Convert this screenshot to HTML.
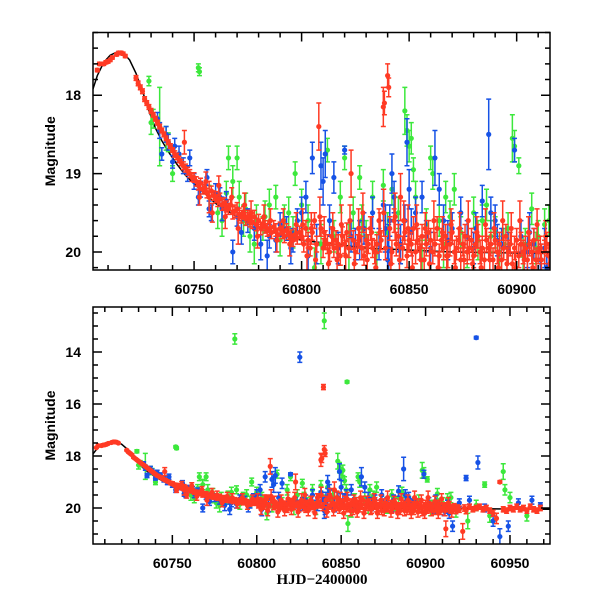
<!DOCTYPE html>
<html><head><meta charset="utf-8"><style>
html,body{margin:0;padding:0;background:#fff;}
svg{display:block;}
text{font-family:"Liberation Sans",sans-serif;}
</style></head><body>
<svg id="chart" width="600" height="600" viewBox="0 0 600 600" xmlns="http://www.w3.org/2000/svg">
<defs>
<clipPath id="clipTop"><rect x="93" y="32.5" width="457" height="237.5"/></clipPath>
<clipPath id="clipBot"><rect x="93" y="307" width="457" height="237"/></clipPath>
</defs>
<g id="top"></g>
<g id="bot"></g>
</svg>
<script>
// Model curve: times and magnitudes
const modelT = [60703,60705,60708,60711,60714,60717,60720,60723,60726,60729,60732,60735,60738,60742,60746,60750,60760,60770,60780,60790,60800,60830,60870,60915,60975];
const modelM = [17.92,17.75,17.58,17.49,17.45,17.46,17.55,17.72,17.95,18.2,18.42,18.58,18.72,18.88,19.02,19.13,19.38,19.55,19.68,19.78,19.85,19.95,20.0,20.02,20.05];

// Green series [HJD, mag, err]
const greenData = [
[60729,17.82,0.06],[60730,18.35,0.15],[60731,18.3,0.12],[60734,18.4,0.5],[60737,18.55,0.15],[60738,18.6,0.12],[60740,19.0,0.1],
[60752,17.65,0.05],[60752.5,17.7,0.05],[60757,19.3,0.15],[60763,19.6,0.2],[60766,18.8,0.15],[60768,19.1,0.2],[60770,18.8,0.15],
[60771,19.3,0.2],[60773,19.6,0.2],[60776,19.8,0.2],[60779,19.6,0.2],[60782,19.7,0.15],[60785,19.4,0.2],[60788,19.3,0.15],
[60792,19.6,0.2],[60796,19.75,0.2],[60797,19.0,0.15],[60800,19.4,0.2],[60806,20.2,0.25],[60812,18.7,0.15],[60815,19.8,0.2],
[60818,19.3,0.2],[60820,18.8,0.15],[60824,19.5,0.2],[60827,19.05,0.15],[60830,19.8,0.2],[60833,19.3,0.2],[60835,20.0,0.25],
[60838,19.15,0.2],[60842,19.2,0.2],[60845,19.5,0.2],[60848,18.2,0.3],[60849,18.45,0.2],[60850,18.65,0.2],[60851,18.55,0.2],
[60852,18.95,0.15],[60853,19.3,0.2],[60856,20.1,0.25],[60860,18.8,0.15],[60861,19.0,0.2],[60864,19.6,0.2],[60867,19.3,0.2],
[60871,19.2,0.2],[60874,19.75,0.2],[60877,20.0,0.2],[60880,19.5,0.2],[60884,19.6,0.2],[60888,19.8,0.2],[60890,19.75,0.2],
[60892,20.0,0.2],[60894,19.9,0.2],[60898,18.55,0.3],[60899,18.65,0.2],[60901,18.9,0.1],[60904,19.9,0.2],[60907,19.45,0.2],
[60910,19.8,0.2],[60913,19.65,0.2],[60915,19.6,0.2],
[60761,19.5,0.2],[60765,19.25,0.15],[60774,19.45,0.2],[60778,19.9,0.25],[60783,19.55,0.2],[60790,19.85,0.2],[60794,19.5,0.2],
[60803,19.6,0.2],[60809,19.9,0.25],[60822,19.95,0.3],[60828,19.6,0.2],[60840,19.75,0.25],[60858,19.65,0.2],[60866,19.9,0.3],
[60869,19.55,0.2],[60882,19.85,0.25],[60886,19.4,0.2],[60896,19.7,0.2],[60903,20.05,0.25],[60909,19.95,0.2],
[60787,13.5,0.2],[60840,12.8,0.3],[60853.5,15.15,0.05],[60854,20.6,0.3],[60918,20.1,0.25],[60925,20.5,0.3],[60930,19.9,0.2],
[60935,19.1,0.1],[60938,20.3,0.25],[60946,18.6,0.3],[60947,19.3,0.2],[60950,19.6,0.2],[60960,20.3,0.2]
];

// Blue series [HJD, mag, err]
const blueData = [
[60733,18.3,0.08],[60734,18.45,0.1],[60735,18.75,0.08],[60737,18.5,0.1],[60738,18.6,0.1],[60740,18.85,0.08],[60741,18.65,0.1],
[60743,18.75,0.1],[60745,18.9,0.1],[60747,19.0,0.1],[60748,18.8,0.1],[60750,19.1,0.1],[60752,19.3,0.1],[60753,19.2,0.1],
[60756,19.05,0.1],[60757,19.45,0.1],[60758,19.5,0.1],[60760,19.25,0.12],[60762,19.3,0.12],[60765,19.35,0.12],[60768,20.0,0.15],
[60770,19.55,0.12],[60775,19.6,0.15],[60778,19.7,0.15],[60784,20.05,0.2],[60785,19.8,0.15],[60788,19.85,0.15],[60790,19.65,0.15],
[60793,19.7,0.15],[60796,19.85,0.15],[60798,19.6,0.15],[60800,19.5,0.2],[60802,19.3,0.2],[60805,18.8,0.2],[60807,19.9,0.25],
[60809,18.9,0.3],[60810,19.1,0.3],[60811,18.75,0.3],[60813,19.6,0.2],[60815,19.05,0.2],[60820,18.7,0.05],[60823,19.8,0.2],
[60825,19.9,0.2],[60829,19.7,0.2],[60833,19.5,0.2],[60836,19.9,0.2],[60838,19.4,0.2],[60840,20.1,0.3],[60841,19.6,0.2],
[60842,19.0,0.25],[60843,19.3,0.2],[60845,19.8,0.2],[60848,19.6,0.2],[60849,18.6,0.3],[60850,19.2,0.25],[60853,19.5,0.2],
[60856,19.3,0.2],[60858,19.8,0.2],[60862,18.8,0.35],[60864,19.2,0.2],[60866,19.6,0.2],[60870,19.7,0.2],[60874,19.5,0.2],
[60877,19.8,0.2],[60880,19.95,0.2],[60884,19.35,0.2],[60887,18.5,0.45],[60888,19.5,0.2],[60890,19.6,0.2],[60893,19.9,0.2],
[60896,19.95,0.2],[60899,18.7,0.15],[60902,19.8,0.2],[60905,20.0,0.2],[60908,19.9,0.2],[60911,20.1,0.2],[60914,20.2,0.2],
[60763,19.45,0.15],[60772,19.75,0.15],[60781,19.9,0.2],[60795,19.95,0.2],[60803,20.05,0.25],[60817,19.95,0.2],[60827,19.85,0.25],
[60839,19.7,0.3],[60840.5,19.95,0.3],[60846,19.9,0.25],[60851,19.75,0.3],[60860,19.95,0.2],[60868,19.85,0.25],[60881,19.7,0.2],
[60891,19.85,0.2],[60906,19.75,0.25],[60913,19.95,0.25],
[60825.5,14.2,0.2],[60930,13.45,0.05],[60931,18.25,0.25],[60924,18.85,0.1],[60916,20.7,0.2],[60920,19.8,0.15],[60926,19.7,0.15],
[60935,20.0,0.15],[60940,20.5,0.2],[60944,21.1,0.3],[60949,20.7,0.2],[60955,19.8,0.15],[60963,19.7,0.15],[60968,19.9,0.1]
];

// Red series magnitudes by HJD
const redT = [60705,60706,60708,60709,60710,60711,60712,60714,60715,60716,60717,60718,
60723,60724,60725,60726,60727,60728,60729,60730,60731,60732,60733,60734,60735,60736,60737,60738,60739,60740,60741,60742,60743,60744,60745,60745.5,60746,60747,60748,60749,
60750,60751,60752,60753,60754,60755,60756,60757,60758,60759,60760,60761,60762,60763,60764,60765,60766,60767,60768,60769,60770,60771,60772,60773,60774,60775,60776,60777,60778,60779,
60780,60781,60782,60783,60784,60785,60786,60787,60788,60789,60790,60791,60792,60793,60794,60795,60796,60797,60798,60799,
60800,60801,60802,60803,60804,60805,60806,60807,60808,60809,60810,60811,60812,60813,60814,60815,60816,60817,60818,60819,
60820,60821,60822,60823,60824,60825,60826,60827,60828,60829,60830,60831,60832,60833,60834,60835,60836,60837,60838,60839,
60840,60841,60842,60843,60844,60845,60846,60847,60848,60849,60850,60851,60852,60853,60854,60855,60856,60857,60858,60859,
60860,60861,60862,60863,60864,60865,60866,60867,60868,60869,60870,60871,60872,60873,60874,60875,60876,60877,60878,60879,
60880,60881,60882,60883,60884,60885,60886,60887,60888,60889,60890,60891,60892,60893,60894,60895,60896,60897,60898,60899,
60900,60901,60902,60903,60904,60905,60906,60907,60908,60909,60910,60911,60912,60913,60914,60915,60916,60917,60918,60919,
60920,60922,60923,60924,60926,60928,60930,60932,60934,60936,60938,60940,60942,60944,60946,60948,60950,60952,60954,60956,60958,60960,60962,60964,60966,60968,
60839.5,60838.5,60840.5];
const redM = [17.68,17.6,17.6,17.58,17.57,17.55,17.52,17.48,17.46,17.46,17.47,17.5,
17.78,17.85,17.9,17.95,18.05,18.1,18.15,18.2,18.25,18.3,18.35,18.4,18.45,18.5,18.55,18.6,18.65,18.7,18.75,18.78,18.82,18.86,18.9,18.6,18.93,18.97,19.0,19.05,
19.05,19.1,19.15,19.12,19.2,19.18,19.25,19.3,19.22,19.28,19.3,19.35,19.32,19.4,19.38,19.42,19.45,19.4,19.5,19.48,19.45,19.52,19.55,19.5,19.58,19.55,19.6,19.62,19.55,19.65,
19.6,19.7,19.65,19.68,19.72,19.7,19.75,19.68,19.72,19.78,19.7,19.75,19.8,19.72,19.76,19.8,19.85,19.78,19.82,19.75,
19.8,19.9,19.7,19.85,19.95,19.75,19.6,19.9,18.4,19.7,19.95,19.85,19.9,20.0,19.8,19.95,19.85,19.9,20.05,19.8,
19.9,19.75,19.95,19.0,19.85,20.0,19.9,19.8,19.95,20.05,19.85,19.9,19.7,19.95,20.0,19.9,19.6,19.85,18.15,19.95,
17.75,19.7,20.0,19.6,19.9,19.8,19.3,19.95,19.75,20.05,19.85,19.9,19.7,20.0,19.85,19.95,19.8,20.1,19.9,19.75,
19.85,20.0,19.9,19.7,20.05,19.85,19.95,19.8,20.05,19.9,19.75,20.0,19.95,19.85,20.1,19.9,19.8,20.0,19.95,19.85,
20.05,19.9,19.8,20.0,19.95,20.1,19.85,19.95,19.9,20.1,19.85,20.0,19.9,20.1,19.95,19.8,20.0,19.9,20.15,19.95,
19.85,20.05,19.9,20.0,19.95,20.1,19.9,20.0,19.85,20.1,20.0,19.95,20.8,20.0,19.9,20.05,20.0,19.95,20.1,20.0,
20.05,20.9,20.0,20.1,19.95,20.05,20.0,19.95,20.05,20.0,20.1,20.2,20.4,19.0,20.05,20.1,20.0,20.05,19.95,20.05,20.0,20.1,19.95,20.05,20.1,20.0,
15.35,18.1,17.9];
// Red error bars (mag)
const redE = [0.02,0.02,0.02,0.02,0.02,0.02,0.02,0.02,0.02,0.02,0.02,0.02,
0.03,0.03,0.03,0.03,0.03,0.03,0.03,0.03,0.03,0.03,0.03,0.03,0.03,0.03,0.03,0.03,0.03,0.03,0.04,0.04,0.04,0.04,0.05,0.15,0.05,0.05,0.05,0.05,
0.06,0.06,0.06,0.06,0.06,0.06,0.06,0.2,0.06,0.06,0.07,0.07,0.07,0.07,0.07,0.07,0.07,0.07,0.08,0.08,0.08,0.08,0.08,0.08,0.08,0.08,0.08,0.08,0.08,0.08,
0.08,0.08,0.08,0.08,0.08,0.08,0.08,0.08,0.08,0.08,0.08,0.08,0.08,0.08,0.08,0.08,0.08,0.08,0.08,0.08,
0.1,0.1,0.1,0.1,0.1,0.1,0.1,0.1,0.3,0.1,0.12,0.12,0.12,0.12,0.12,0.12,0.12,0.12,0.12,0.12,
0.12,0.12,0.12,0.3,0.12,0.15,0.12,0.12,0.15,0.12,0.15,0.12,0.15,0.12,0.15,0.12,0.15,0.12,0.25,0.15,
0.15,0.15,0.15,0.15,0.15,0.15,0.3,0.15,0.15,0.15,0.15,0.15,0.15,0.15,0.15,0.15,0.15,0.15,0.15,0.15,
0.15,0.15,0.15,0.15,0.15,0.15,0.15,0.15,0.15,0.15,0.15,0.15,0.15,0.15,0.15,0.15,0.15,0.15,0.15,0.15,
0.15,0.15,0.15,0.15,0.15,0.15,0.15,0.15,0.15,0.15,0.15,0.15,0.15,0.15,0.15,0.15,0.15,0.15,0.15,0.15,
0.15,0.15,0.15,0.15,0.15,0.15,0.15,0.15,0.15,0.15,0.15,0.15,0.3,0.15,0.15,0.15,0.12,0.12,0.12,0.12,
0.12,0.3,0.12,0.12,0.1,0.1,0.1,0.1,0.1,0.1,0.1,0.12,0.2,0.05,0.1,0.1,0.1,0.1,0.1,0.1,0.1,0.1,0.1,0.1,0.1,0.1,
0.1,0.15,0.12];

// Extra red measurements (noisier, half-day offsets)
const redT2 = [60752.5,60755.5,60758.5,60761.5,60764.5,60767.5,60770.5,60773.5,60776.5,60779.5,60782.5,60785.5,60788.5,60791.5,60794.5,60797.5,
60800.5,60802.5,60804.5,60806.5,60808.5,60810.5,60812.5,60814.5,60816.5,60818.5,60820.5,60822.5,60824.5,60826.5,60828.5,60830.5,
60832.5,60834.5,60836.5,60838.2,60841.5,60843.5,60845.5,60847.5,60849.5,60851.5,60853.5,60855.5,60857.5,60859.5,60861.5,60863.5,
60865.5,60867.5,60869.5,60871.5,60873.5,60875.5,60877.5,60879.5,60881.5,60883.5,60885.5,60887.5,60889.5,60891.5,60893.5,60895.5,
60897.5,60899.5,60901.5,60903.5,60905.5,60907.5,60909.5,60911.5,60913.5,60915.5];
const redM2 = [19.3,19.1,19.5,19.15,19.55,19.3,19.7,19.4,19.5,19.8,19.55,19.6,19.85,19.6,19.9,19.65,
19.65,20.05,19.7,20.1,19.55,19.75,20.15,19.7,20.1,19.65,20.05,19.6,20.15,19.7,19.5,20.1,
19.75,20.2,19.75,19.5,20.15,19.55,20.1,19.6,19.7,20.2,19.65,20.1,19.7,20.15,19.6,20.2,
19.75,20.05,19.65,20.2,19.7,20.1,19.6,20.15,19.75,20.2,19.65,20.1,19.7,20.2,19.6,20.15,
19.7,20.2,19.6,20.1,19.75,20.2,19.65,20.1,19.8,20.15];
const redE2 = [0.1,0.12,0.12,0.12,0.15,0.12,0.2,0.15,0.15,0.15,0.15,0.15,0.15,0.15,0.15,0.15,
0.2,0.2,0.2,0.2,0.25,0.2,0.2,0.2,0.2,0.25,0.2,0.2,0.2,0.25,0.25,0.2,
0.2,0.2,0.25,0.3,0.2,0.3,0.2,0.25,0.3,0.2,0.25,0.2,0.2,0.2,0.25,0.2,
0.2,0.2,0.2,0.2,0.2,0.2,0.25,0.2,0.2,0.2,0.2,0.2,0.2,0.2,0.25,0.2,
0.2,0.2,0.25,0.2,0.2,0.2,0.2,0.2,0.2,0.2];

// Axis tick labels
const topXTicks = [60750,60800,60850,60900];
const topYTicks = [18,19,20];
const botXTicks = [60750,60800,60850,60900,60950];
const botYTicks = [14,16,18,20];

const NS = 'http://www.w3.org/2000/svg';
function mk(tag, attrs, parent){const e=document.createElementNS(NS,tag);for(const k in attrs)e.setAttribute(k,attrs[k]);parent.appendChild(e);return e;}

const panels = [
 {g:document.getElementById('top'), clip:'clipTop', x0:93,x1:550,y0:32.5,y1:270, tmin:60703,tmax:60915.5, mmin:17.2,mmax:20.23,
  xt:topXTicks, yt:topYTicks, yminor:0.2, label:'top'},
 {g:document.getElementById('bot'), clip:'clipBot', x0:93,x1:550,y0:307,y1:544, tmin:60703,tmax:60973.7, mmin:12.27,mmax:21.385,
  xt:botXTicks, yt:botYTicks, yminor:0.5, label:'bottom'}
];

const colors = {green:'#3ce83c', blue:'#1652e6', red:'#ff3a24'};

panels.forEach(p=>{
  const X = t => p.x0 + (t-p.tmin)/(p.tmax-p.tmin)*(p.x1-p.x0);
  const Y = m => p.y0 + (m-p.mmin)/(p.mmax-p.mmin)*(p.y1-p.y0);
  const plot = mk('g',{'clip-path':'url(#'+p.clip+')'},p.g);
  
  
  let d = modelT.map((t,i)=>(i?'L':'M')+X(t).toFixed(1)+' '+Y(modelM[i]).toFixed(1)).join(' ');
  const ml = mk('path',{d:d,fill:'none',stroke:'#000','stroke-width':1.5},plot);
  
  
  function drawSeries(name, arr, col){
    const sg = mk('g',{},plot);
    
    
    arr.forEach(([t,m,e])=>{
      const x=X(t), y=Y(m), ya=Y(m-e), yb=Y(m+e);
      const pt = mk('g',{},sg);
      
      
      mk('path',{d:`M${x} ${ya} L${x} ${yb} M${x-2.5} ${ya} L${x+2.5} ${ya} M${x-2.5} ${yb} L${x+2.5} ${yb}`,stroke:col,'stroke-width':1.5,fill:'none'},pt);
      mk('circle',{cx:x,cy:y,r:2.6,fill:col},pt);
    });
  }
  drawSeries('green', greenData, colors.green);
  drawSeries('blue', blueData, colors.blue);
  drawSeries('red', redT.map((t,i)=>[t,redM[i],redE[i]]).concat(redT2.map((t,i)=>[t,redM2[i],redE2[i]])), colors.red);

  const fr = mk('rect',{x:p.x0,y:p.y0,width:p.x1-p.x0,height:p.y1-p.y0,fill:'none',stroke:'#000','stroke-width':1.5},p.g);
  
  
  let td='';
  for(let t=60710;t<=p.tmax;t+=10){
    const x=X(t), L=(t%50===0)?9:5;
    td+=`M${x} ${p.y1} L${x} ${p.y1-L} M${x} ${p.y0} L${x} ${p.y0+L} `;
  }
  const start=Math.ceil(p.mmin/p.yminor)*p.yminor;
  for(let m=start;m<=p.mmax+1e-9;m+=p.yminor){
    const mr=Math.round(m*10)/10, y=Y(mr), L=(p.yt.indexOf(mr)>=0)?9:5;
    td+=`M${p.x0} ${y} L${p.x0+L} ${y} M${p.x1} ${y} L${p.x1-L} ${y} `;
  }
  const tk = mk('path',{d:td,stroke:'#000','stroke-width':1.5,fill:'none'},p.g);
  
  
  p.xt.forEach(t=>{
    const tx = mk('text',{x:X(t),y:p.y1+24,'text-anchor':'middle','font-size':14,'font-weight':'bold'},p.g);
    tx.textContent=t;
    
    
  });
  p.yt.forEach(m=>{
    const ty = mk('text',{x:p.x0-12,y:Y(m)+5,'text-anchor':'end','font-size':14,'font-weight':'bold'},p.g);
    ty.textContent=m;
    
    
  });
  const yc=(p.y0+p.y1)/2;
  const yl = mk('text',{x:0,y:0,transform:`translate(55 ${yc}) rotate(-90)`,'text-anchor':'middle','font-size':14,'font-weight':'bold'},p.g);
  yl.textContent='Magnitude';
  
  
});
const xl = mk('text',{x:322,y:584,'text-anchor':'middle','font-size':15,'font-weight':'bold','style':'font-family:"Liberation Serif",serif'},document.getElementById('bot'));
xl.textContent='HJD\u22122400000';


</script>
</body></html>
